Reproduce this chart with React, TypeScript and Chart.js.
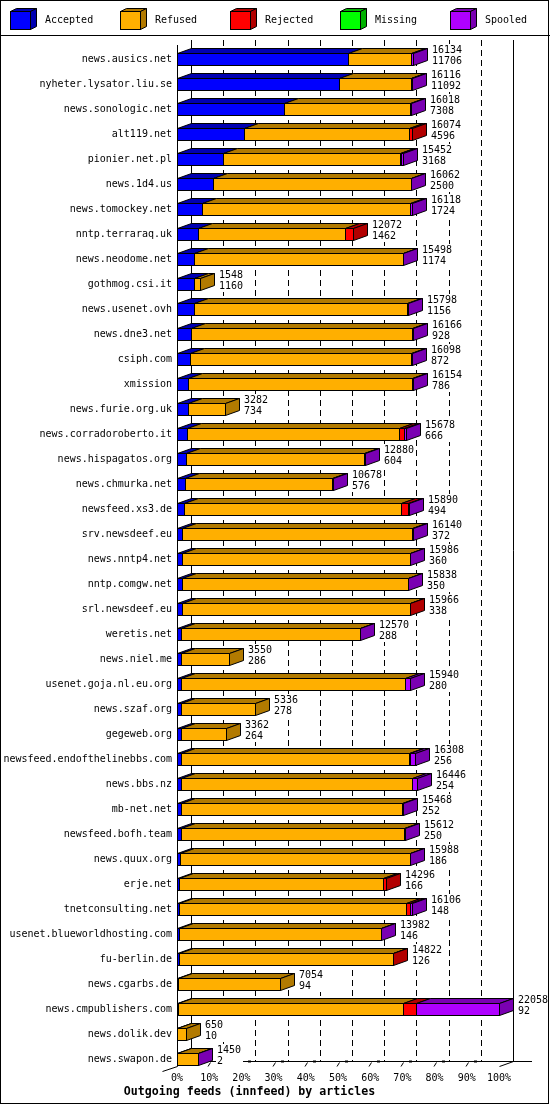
import React, { useEffect, useRef } from 'react';
import { Chart, registerables } from 'chart.js';

Chart.register(...registerables);

const hosts = [
  'news.ausics.net', 'nyheter.lysator.liu.se', 'news.sonologic.net', 'alt119.net', 'pionier.net.pl',
  'news.1d4.us', 'news.tomockey.net', 'nntp.terraraq.uk', 'news.neodome.net', 'gothmog.csi.it',
  'news.usenet.ovh', 'news.dne3.net', 'csiph.com', 'xmission', 'news.furie.org.uk',
  'news.corradoroberto.it', 'news.hispagatos.org', 'news.chmurka.net', 'newsfeed.xs3.de', 'srv.newsdeef.eu',
  'news.nntp4.net', 'nntp.comgw.net', 'srl.newsdeef.eu', 'weretis.net', 'news.niel.me',
  'usenet.goja.nl.eu.org', 'news.szaf.org', 'gegeweb.org', 'newsfeed.endofthelinebbs.com', 'news.bbs.nz',
  'mb-net.net', 'newsfeed.bofh.team', 'news.quux.org', 'erje.net', 'tnetconsulting.net',
  'usenet.blueworldhosting.com', 'fu-berlin.de', 'news.cgarbs.de', 'news.cmpublishers.com', 'news.dolik.dev',
  'news.swapon.de',
];

const accepted = [
  11706, 11092, 7308, 4596, 3168, 2500, 1724, 1462, 1174, 1160,
  1156, 928, 872, 786, 734, 666, 604, 576, 494, 372,
  360, 350, 338, 288, 286, 280, 278, 264, 256, 254,
  252, 250, 186, 166, 148, 146, 126, 94, 92, 10,
  2,
];

const refused = [
  4330, 4920, 8680, 11318, 12136, 13500, 14250, 10080, 14290, 388,
  14600, 15180, 15170, 15340, 2548, 14560, 12240, 10070, 14840, 15710,
  15600, 15460, 15600, 12250, 3264, 15340, 5058, 3098, 15640, 15850,
  15190, 15330, 15770, 13960, 15530, 13800, 14670, 6960, 15420, 640,
  1420,
];

const rejected = [
  0, 50, 0, 160, 70, 0, 0, 530, 0, 0,
  0, 0, 0, 0, 0, 340, 0, 0, 500, 0,
  0, 0, 28, 0, 0, 0, 0, 0, 80, 0,
  0, 0, 0, 170, 310, 0, 26, 0, 860, 0,
  0,
];

const missing = [
  0, 0, 0, 0, 0, 0, 0, 0, 0, 0,
  0, 0, 0, 0, 0, 0, 0, 0, 0, 0,
  0, 0, 0, 0, 0, 0, 0, 0, 0, 0,
  0, 0, 0, 0, 0, 0, 0, 0, 0, 0,
  0,
];

const spooled = [
  98, 54, 30, 0, 78, 62, 144, 0, 34, 0,
  42, 58, 56, 28, 0, 112, 36, 32, 56, 58,
  26, 28, 0, 32, 0, 320, 0, 0, 332, 342,
  26, 32, 32, 0, 118, 36, 0, 0, 5686, 0,
  28,
];

const seriesNames = ['Accepted', 'Refused', 'Rejected', 'Missing', 'Spooled'];
const frontColors = ['#0000FF', '#FFAF00', '#FF0000', '#00FF00', '#AF00FF'];
const darkColors = ['#0000B2', '#B27A00', '#B20000', '#00B200', '#7A00B2'];
const percentTicks = [0, 10, 20, 30, 40, 50, 60, 70, 80, 90, 100];
const titleText = 'Outgoing feeds (innfeed) by articles';

const seriesValues = [accepted, refused, rejected, missing, spooled];
const totals = hosts.map((_, i) => seriesValues.reduce((s, arr) => s + arr[i], 0));
const MAX = Math.max(...totals);

const DX = 14;
const DY = 5;
const FONT = '"DejaVu Sans Mono", monospace';

const threeD = {
  id: 'threeD',
  beforeDraw(chart: any) {
    const ctx = chart.ctx;
    ctx.save();
    ctx.fillStyle = '#fff';
    ctx.fillRect(0, 0, chart.width, chart.height);
    ctx.restore();
  },
  beforeDatasetsDraw(chart: any) {
    const ctx = chart.ctx;
    const xs = chart.scales.x;
    const ca = chart.chartArea;
    const topB = ca.top - 6.5;
    const floorB = ca.bottom - 10.5;
    const floorF = floorB + DY;
    const left = Math.round(ca.left);
    const rightF = Math.round(xs.getPixelForValue(MAX));
    ctx.save();
    ctx.strokeStyle = '#000';
    ctx.lineWidth = 1;
    ctx.setLineDash([6, 4]);
    for (let i = 1; i < percentTicks.length - 1; i++) {
      const x = Math.round(xs.getPixelForValue((percentTicks[i] / 100) * MAX)) + DX + 0.5;
      ctx.beginPath();
      ctx.moveTo(x, topB);
      ctx.lineTo(x, floorB);
      ctx.stroke();
    }
    ctx.setLineDash([]);
    ctx.beginPath();
    ctx.moveTo(left + DX + 0.5, topB);
    ctx.lineTo(left + DX + 0.5, floorB + 0.5);
    ctx.moveTo(rightF + DX + 0.5, topB);
    ctx.lineTo(rightF + DX + 0.5, floorB + 0.5);
    ctx.moveTo(left + 0.5, topB + DY);
    ctx.lineTo(left + 0.5, floorF + 0.5);
    ctx.moveTo(left + DX, floorB + 0.5);
    ctx.lineTo(rightF + DX + 19, floorB + 0.5);
    ctx.moveTo(left + 0.5, floorF + 0.5);
    ctx.lineTo(left - 15 + 0.5, floorF + 5 + 0.5);
    ctx.moveTo(rightF + 0.5, floorF + 0.5);
    ctx.lineTo(rightF + DX + 0.5, floorB + 0.5);
    ctx.stroke();
    ctx.fillStyle = '#000';
    for (let i = 1; i < percentTicks.length - 1; i++) {
      const fx = Math.round(xs.getPixelForValue((percentTicks[i] / 100) * MAX));
      ctx.beginPath();
      ctx.moveTo(fx - 1, floorF + 0.5);
      ctx.lineTo(fx + 1.5, floorF - 3.5);
      ctx.stroke();
      ctx.fillRect(fx + 7, floorB - 0.5, 3, 2);
    }
    ctx.restore();
  },
  afterDatasetsDraw(chart: any) {
    const ctx = chart.ctx;
    const n = chart.data.labels.length;
    const dsets = chart.data.datasets;
    ctx.save();
    ctx.lineWidth = 1;
    ctx.strokeStyle = '#000';
    for (let i = 0; i < n; i++) {
      const segs: any[] = [];
      let total = 0;
      dsets.forEach((ds: any, d: number) => {
        const v = ds.data[i];
        total += v;
        if (!v) return;
        const el = chart.getDatasetMeta(d).data[i];
        const p = el.getProps(['x', 'y', 'base', 'height'], true);
        segs.push({
          l: Math.round(Math.min(p.x, p.base)),
          r: Math.round(Math.max(p.x, p.base)),
          t: Math.round(p.y - p.height / 2),
          b: Math.round(p.y + p.height / 2),
          c: p.y,
          d,
        });
      });
      if (!segs.length) continue;
      for (const s of segs) {
        ctx.fillStyle = frontColors[s.d];
        ctx.fillRect(s.l, s.t, s.r - s.l, s.b - s.t);
      }
      for (const s of segs) {
        ctx.beginPath();
        ctx.moveTo(s.l + 0.5, s.t + 0.5);
        ctx.lineTo(s.l + DX + 0.5, s.t - DY + 0.5);
        ctx.lineTo(s.r + DX + 0.5, s.t - DY + 0.5);
        ctx.lineTo(s.r + 0.5, s.t + 0.5);
        ctx.closePath();
        ctx.fillStyle = darkColors[s.d];
        ctx.fill();
        ctx.stroke();
      }
      for (const s of segs) {
        ctx.strokeRect(s.l + 0.5, s.t + 0.5, s.r - s.l, s.b - s.t);
      }
      const last = segs[segs.length - 1];
      ctx.beginPath();
      ctx.moveTo(last.r + 0.5, last.t + 0.5);
      ctx.lineTo(last.r + DX + 0.5, last.t - DY + 0.5);
      ctx.lineTo(last.r + DX + 0.5, last.b - DY + 0.5);
      ctx.lineTo(last.r + 0.5, last.b + 0.5);
      ctx.closePath();
      ctx.fillStyle = darkColors[last.d];
      ctx.fill();
      ctx.stroke();
      // value labels on a white box
      ctx.font = `10px ${FONT}`;
      ctx.textAlign = 'left';
      ctx.textBaseline = 'middle';
      const tx = last.r + DX + 5;
      const t1 = String(total);
      const t2 = String(dsets[0].data[i]);
      const w = Math.max(ctx.measureText(t1).width, ctx.measureText(t2).width);
      ctx.fillStyle = '#fff';
      ctx.fillRect(tx - 1, Math.round(last.c) - 15, Math.ceil(w) + 2, 23);
      ctx.fillStyle = '#000';
      ctx.fillText(t1, tx, last.c - 8.5);
      ctx.fillText(t2, tx, last.c + 2.5);
    }
    ctx.restore();
  },
  afterDraw(chart: any) {
    const ctx = chart.ctx;
    ctx.save();
    ctx.lineWidth = 1;
    ctx.strokeStyle = '#000';
    chart.data.datasets.forEach((ds: any, k: number) => {
      const x = 10 + k * 110;
      const t = 11;
      const w = 20;
      const h = 18;
      ctx.fillStyle = frontColors[k];
      ctx.fillRect(x, t, w, h);
      ctx.fillStyle = darkColors[k];
      ctx.beginPath();
      ctx.moveTo(x + 0.5, t + 0.5);
      ctx.lineTo(x + 6.5, t - 2.5);
      ctx.lineTo(x + w + 6.5, t - 2.5);
      ctx.lineTo(x + w + 0.5, t + 0.5);
      ctx.closePath();
      ctx.fill();
      ctx.stroke();
      ctx.beginPath();
      ctx.moveTo(x + w + 0.5, t + 0.5);
      ctx.lineTo(x + w + 6.5, t - 2.5);
      ctx.lineTo(x + w + 6.5, t + h - 2.5);
      ctx.lineTo(x + w + 0.5, t + h + 0.5);
      ctx.closePath();
      ctx.fill();
      ctx.stroke();
      ctx.strokeRect(x + 0.5, t + 0.5, w, h);
      ctx.fillStyle = '#000';
      ctx.font = `10px ${FONT}`;
      ctx.textAlign = 'left';
      ctx.textBaseline = 'middle';
      ctx.fillText(ds.label, x + 35, 20);
    });
    ctx.beginPath();
    ctx.moveTo(0, 35.5);
    ctx.lineTo(chart.width, 35.5);
    ctx.stroke();
    ctx.strokeRect(0.5, 0.5, chart.width - 2, chart.height - 2);
    ctx.restore();
  },
};

export default function App() {
  const ref = useRef<HTMLCanvasElement | null>(null);
  useEffect(() => {
    document.body.style.margin = '0';
    const canvas = ref.current;
    if (!canvas) return;
    const chart = new Chart(canvas, {
      type: 'bar',
      data: {
        labels: hosts,
        datasets: seriesNames.map((name, k) => ({
          label: name,
          data: seriesValues[k],
          backgroundColor: frontColors[k],
          borderWidth: 0,
          barThickness: 12,
          inflateAmount: 0,
        })),
      },
      options: {
        indexAxis: 'y',
        responsive: false,
        animation: false,
        devicePixelRatio: 1,
        events: [],
        layout: { padding: { top: 46.5, right: 51, bottom: 0, left: 0 } },
        scales: {
          x: {
            stacked: true,
            min: 0,
            max: MAX,
            grid: { display: false, drawTicks: false },
            border: { display: false },
            afterBuildTicks: (s: any) => {
              s.ticks = percentTicks.map((p) => ({ value: (p / 100) * MAX }));
            },
            afterFit: (s: any) => {
              s.height = 13.5;
            },
            ticks: {
              padding: 1,
              color: '#000',
              autoSkip: false,
              maxRotation: 0,
              font: { family: FONT, size: 10 },
              callback: (_v: any, i: number) => `${percentTicks[i]}%`,
            },
          },
          y: {
            stacked: true,
            grid: { display: false, drawTicks: false },
            border: { display: false },
            afterFit: (s: any) => {
              s.width = 177;
            },
            ticks: {
              padding: 5,
              color: '#000',
              autoSkip: false,
              font: { family: FONT, size: 10 },
            },
          },
        },
        plugins: {
          legend: { display: false },
          tooltip: { enabled: false },
          title: {
            display: true,
            position: 'bottom',
            text: titleText,
            color: '#000',
            font: { family: FONT, size: 11.6, weight: 'bold', lineHeight: '14px' },
            padding: { top: 0, bottom: 6 },
          },
        },
      },
      plugins: [threeD],
    } as any);
    return () => chart.destroy();
  }, []);
  return (
    <div style={{ width: 550, height: 1105 }}>
      <canvas ref={ref} width={550} height={1105} style={{ display: 'block' }} />
    </div>
  );
}
